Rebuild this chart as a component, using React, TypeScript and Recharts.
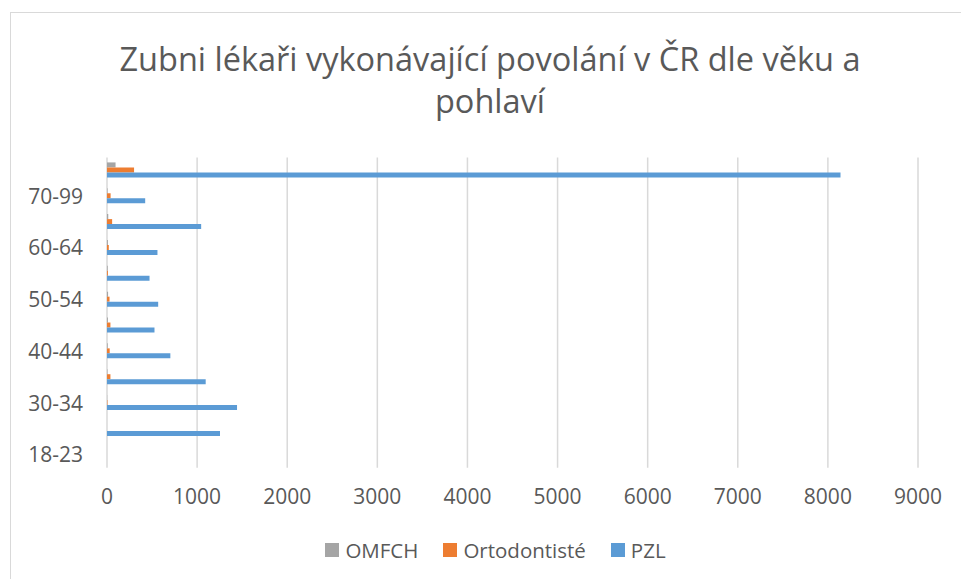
import React from 'react'
import { BarChart, Bar, XAxis, YAxis, CartesianGrid } from 'recharts'

const ageGroups = ['18-23', '24-29', '30-34', '35-39', '40-44', '45-49', '50-54', '55-59', '60-64', '65-69', '70-99', 'Celkem']
const omfch = [0, 0, 2, 5, 8, 10, 12, 8, 10, 14, 6, 95]
const ortodontiste = [0, 0, 5, 38, 30, 38, 28, 10, 20, 57, 40, 300]
const pzl = [0, 1254, 1443, 1095, 703, 527, 568, 472, 560, 1045, 424, 8140]
const xTicks = [0, 1000, 2000, 3000, 4000, 5000, 6000, 7000, 8000, 9000]

const series = [
  { key: 'omfch', name: 'OMFCH', color: '#A5A5A5' },
  { key: 'orto', name: 'Ortodontisté', color: '#ED7D31' },
  { key: 'pzl', name: 'PZL', color: '#5B9BD5' },
]

const data = ageGroups.map((age, i) => ({
  age,
  omfch: omfch[i],
  orto: ortodontiste[i],
  pzl: pzl[i],
}))

const font = '"Open Sans", sans-serif'
const textColor = '#595959'

export default function App() {
  return (
    <div style={{ position: 'fixed', left: 0, top: 0, width: 961, height: 579, overflow: 'hidden', background: '#fff', fontFamily: font }}>
      <div style={{ position: 'absolute', left: 10, top: 12, width: 1000, height: 700, border: '1px solid #d9d9d9' }} />
      <div style={{ position: 'absolute', left: 0, top: 38, width: 980, textAlign: 'center', fontSize: 32.5, lineHeight: '42px', color: textColor }}>
        Zubni lékaři vykonávající povolání v ČR dle věku a<br />pohlaví
      </div>
      <BarChart
        width={961}
        height={579}
        data={data}
        layout="vertical"
        margin={{ top: 157.5, right: 43, bottom: 81.3, left: 0 }}
        barCategoryGap="19%"
        barGap={0}
        style={{ position: 'absolute', left: 0, top: 0 }}
      >
        <CartesianGrid horizontal={false} stroke="#d9d9d9" strokeWidth={1.5} />
        <XAxis
          type="number"
          domain={[0, 9000]}
          ticks={xTicks}
          height={30}
          axisLine={false}
          tickLine={false}
          tickSize={0}
          tickMargin={21}
          tick={{ fill: textColor, fontSize: 21, fontFamily: font }}
        />
        <YAxis
          type="category"
          dataKey="age"
          reversed
          width={107}
          interval={1}
          axisLine={false}
          tickLine={false}
          tickSize={0}
          tickMargin={24}
          tick={{ fill: textColor, fontSize: 21, fontFamily: font }}
        />
        {series.map((s) => (
          <Bar key={s.key} dataKey={s.key} name={s.name} fill={s.color} isAnimationActive={false} />
        ))}
      </BarChart>
      <div style={{ position: 'absolute', left: 0, top: 535, width: 991, display: 'flex', justifyContent: 'center', fontSize: 20.5, color: textColor }}>
        {series.map((s, i) => (
          <div key={s.key} style={{ display: 'flex', alignItems: 'center', marginRight: i < series.length - 1 ? 25 : 0 }}>
            <span style={{ display: 'inline-block', flexShrink: 0, width: 14, height: 14, background: s.color, marginRight: 6 }} />
            <span style={{ lineHeight: '30px' }}>{s.name}</span>
          </div>
        ))}
      </div>
    </div>
  )
}
